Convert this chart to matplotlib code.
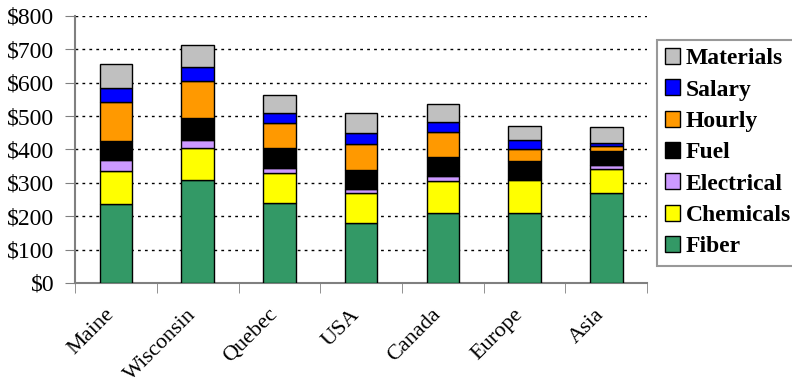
import numpy as np
import matplotlib.pyplot as plt
from matplotlib.transforms import ScaledTranslation

regions = ["Maine", "Wisconsin", "Quebec", "USA", "Canada", "Europe", "Asia"]

# cost per ton by component, bottom to top of each stack
fiber = [235, 307, 238, 178, 208, 208, 268]
chemicals = [99, 98, 90, 90, 96, 99, 72]
electrical = [34, 23, 17, 13, 17, 4, 14]
fuel = [56, 65, 59, 57, 56, 54, 41]
hourly = [117, 112, 76, 79, 76, 37, 16]
salary = [44, 43, 28, 31, 28, 25, 9]
materials = [72, 66, 56, 62, 56, 44, 46]

series = [
    ("Fiber", fiber, "#339966"),
    ("Chemicals", chemicals, "#FFFF00"),
    ("Electrical", electrical, "#CC99FF"),
    ("Fuel", fuel, "#000000"),
    ("Hourly", hourly, "#FF9900"),
    ("Salary", salary, "#0000FF"),
    ("Materials", materials, "#C0C0C0"),
]

plt.rcParams["font.family"] = ["Liberation Serif", "DejaVu Serif"]

fig = plt.figure(figsize=(7.92, 3.87), dpi=100)
ax = fig.add_axes([0.095, 0.269, 0.722, 0.69])

x = np.arange(len(regions))
bottom = np.zeros(len(regions))
handles = []
for name, vals, color in series:
    h = ax.bar(x, vals, width=0.4, bottom=bottom, color=color,
               edgecolor="black", linewidth=1, label=name, zorder=3)
    handles.append(h)
    bottom += np.array(vals)

ax.set_xlim(-0.5, len(regions) - 0.5)
ax.set_ylim(0, 800)
ax.set_yticks(np.arange(0, 801, 100))
ax.set_yticklabels([f"${v}" for v in range(0, 801, 100)], fontsize=17)
ax.yaxis.grid(True, linestyle=(0, (2, 3)), color="black", linewidth=1, zorder=0)

ax.set_xticks(x)
ax.set_xticklabels(regions, rotation=45, ha="right", rotation_mode="anchor",
                   fontsize=16)
ax.tick_params(axis="x", length=0, pad=16)
# nudge the slanted region names a little to the left
shift = ScaledTranslation(-8 / 72, 0, fig.dpi_scale_trans)
for lbl in ax.get_xticklabels():
    lbl.set_transform(lbl.get_transform() + shift)
ax.set_xticks(np.arange(-0.5, len(regions), 1), minor=True)
ax.tick_params(axis="x", which="minor", length=7, color="gray", direction="out")
ax.tick_params(axis="y", length=7, color="gray", direction="out", pad=8)

for side in ("top", "right"):
    ax.spines[side].set_visible(False)
for side in ("left", "bottom"):
    ax.spines[side].set_color("gray")
    ax.spines[side].set_linewidth(1.5)

leg = fig.legend(handles[::-1], [s[0] for s in series][::-1],
                 loc="upper left", bbox_to_anchor=(0.829, 0.897),
                 prop={"weight": "bold", "size": 17},
                 frameon=True, fancybox=False, edgecolor="gray",
                 handlelength=0.65, handleheight=0.65, handletextpad=0.25,
                 labelspacing=0.43, borderpad=0.35, borderaxespad=0)
leg.get_frame().set_linewidth(1.5)

fig.savefig("out.png", dpi=100)
